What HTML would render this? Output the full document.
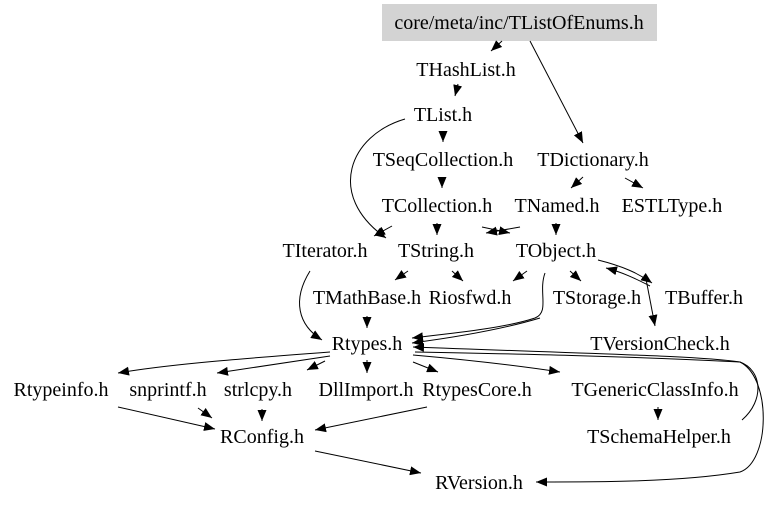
<!DOCTYPE html>
<html><head><meta charset="utf-8"><style>
html,body{margin:0;padding:0;background:#fff;}
svg{display:block;}
text{font-family:"Liberation Serif",serif;font-size:20px;fill:#000;text-anchor:middle;}
path{fill:none;stroke:#000;stroke-width:1;}
</style></head><body>
<svg width="768" height="506" viewBox="0 0 768 506" xmlns="http://www.w3.org/2000/svg">
<defs><marker id="a" markerUnits="userSpaceOnUse" markerWidth="12" markerHeight="9" refX="11" refY="4.5" orient="auto"><polygon points="0,0 11,4.5 0,9" fill="#000"/></marker></defs>
<rect x="382" y="4" width="275" height="37" fill="#d3d3d3"/>
<text x="519" y="29">core/meta/inc/TListOfEnums.h</text>
<text x="466" y="76">THashList.h</text>
<text x="443" y="121">TList.h</text>
<text x="443" y="166">TSeqCollection.h</text>
<text x="593" y="166">TDictionary.h</text>
<text x="437" y="212">TCollection.h</text>
<text x="557" y="212">TNamed.h</text>
<text x="672" y="212">ESTLType.h</text>
<text x="325" y="257">TIterator.h</text>
<text x="436" y="257">TString.h</text>
<text x="556" y="257">TObject.h</text>
<text x="367" y="304">TMathBase.h</text>
<text x="470" y="304">Riosfwd.h</text>
<text x="597" y="304">TStorage.h</text>
<text x="704" y="304">TBuffer.h</text>
<text x="367" y="350">Rtypes.h</text>
<text x="660" y="350">TVersionCheck.h</text>
<text x="61" y="396">Rtypeinfo.h</text>
<text x="168" y="396">snprintf.h</text>
<text x="258" y="396">strlcpy.h</text>
<text x="366" y="396">DllImport.h</text>
<text x="477" y="396">RtypesCore.h</text>
<text x="655" y="396">TGenericClassInfo.h</text>
<text x="262" y="443">RConfig.h</text>
<text x="659" y="443">TSchemaHelper.h</text>
<text x="479" y="489">RVersion.h</text>
<g marker-end="url(#a)">
<path d="M502,41 L491,51"/>
<path d="M530,41 L583,143"/>
<path d="M458,84 L455,96"/>
<path d="M443,131 L443,142"/>
<path d="M405,119 C350,135 325,195 386,238"/>
<path d="M442,177 L442,188"/>
<path d="M583,177 L571,188"/>
<path d="M625,178 L643,188"/>
<path d="M392,226 L374,236"/>
<path d="M437,223 L437,235"/>
<path d="M482,227 L510,233"/>
<path d="M520,227 L486,233"/>
<path d="M556,223 L556,235"/>
<path d="M310,271 C292,300 298,325 322,340"/>
<path d="M408,271 L395,280"/>
<path d="M452,271 L463,281"/>
<path d="M527,271 L513,281"/>
<path d="M570,271 L581,281"/>
<path d="M545,273 C538,292 550,312 535,318 C505,328 455,333 412,338"/>
<path d="M540,318 C500,330 450,338 412,343"/>
<path d="M598,260 C622,266 638,273 652,283"/>
<path d="M650,286 C638,280 625,273 606,268"/>
<path d="M646,279 L655,326"/>
<path d="M367,316 L367,328"/>
<path d="M742,420 C765,400 762,370 740,362 C700,356 600,354 413,347"/>
<path d="M415,352 C520,354 620,356 740,362 C772,378 770,462 740,472 C680,482 600,482 536,482"/>
<path d="M330,352 C250,358 170,364 118,373"/>
<path d="M330,356 L217,373"/>
<path d="M325,361 L307,370"/>
<path d="M367,360 L367,373"/>
<path d="M413,362 L438,372"/>
<path d="M413,355 C470,360 520,366 560,372"/>
<path d="M118,407 L215,429"/>
<path d="M198,408 L212,418"/>
<path d="M262,409 L262,421"/>
<path d="M427,407 L315,430"/>
<path d="M658,407 L658,420"/>
<path d="M315,451 L421,473"/>
</g>
</svg>
</body></html>
